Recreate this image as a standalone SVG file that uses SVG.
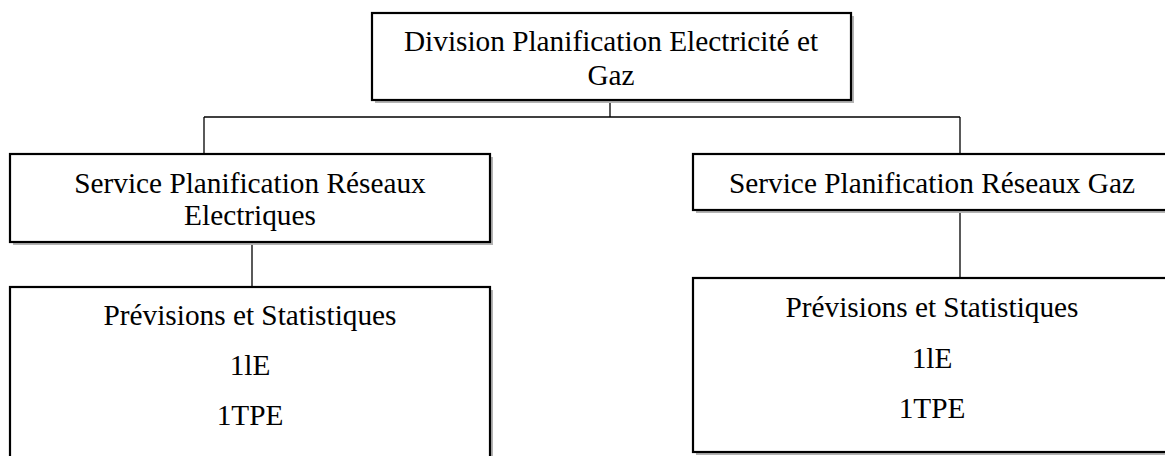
<svg xmlns="http://www.w3.org/2000/svg" width="1165" height="456" viewBox="0 0 1165 456">
  <style>
    .shadow { fill: #b3b3b3; stroke: none; }
    .box { fill: #ffffff; stroke: #000000; stroke-width: 2.2; }
    .link { fill: none; stroke: #000000; stroke-width: 1.3; }
    text { font-family: "Liberation Serif", "Times New Roman", serif; font-size: 29.3px; fill: #000000; text-anchor: middle; }
  </style>
  <rect width="1165" height="456" fill="#ffffff"/>

  <g id="connectors">
    <line class="link" x1="610" y1="100" x2="610" y2="117"/>
    <line class="link" x1="204" y1="117" x2="960" y2="117"/>
    <line class="link" x1="204" y1="117" x2="204" y2="154"/>
    <line class="link" x1="960" y1="117" x2="960" y2="154"/>
    <line class="link" x1="252" y1="242" x2="252" y2="287"/>
    <line class="link" x1="960" y1="210" x2="960" y2="278"/>
  </g>

  <g id="division">
    <rect class="shadow" x="375" y="16" width="479" height="87"/>
    <rect class="box" x="372" y="13" width="479" height="87"/>
    <text x="611" y="51">Division Planification Electricité et</text>
    <text x="611" y="85">Gaz</text>
  </g>

  <g id="service-electrique">
    <rect class="shadow" x="13" y="157" width="480" height="88"/>
    <rect class="box" x="10" y="154" width="480" height="88"/>
    <text x="250" y="193">Service Planification Réseaux</text>
    <text x="250" y="225">Electriques</text>
  </g>

  <g id="service-gaz">
    <rect class="shadow" x="696" y="157" width="480" height="56"/>
    <rect class="box" x="693" y="154" width="480" height="56"/>
    <text x="932" y="193">Service Planification Réseaux Gaz</text>
  </g>

  <g id="previsions-electrique">
    <rect class="shadow" x="13" y="290" width="480" height="180"/>
    <rect class="box" x="10" y="287" width="480" height="180"/>
    <text x="250" y="325">Prévisions et Statistiques</text>
    <text x="250" y="375">1lE</text>
    <text x="250" y="425">1TPE</text>
  </g>

  <g id="previsions-gaz">
    <rect class="shadow" x="696" y="281" width="480" height="174"/>
    <rect class="box" x="693" y="278" width="480" height="174"/>
    <text x="932" y="317">Prévisions et Statistiques</text>
    <text x="932" y="368">1lE</text>
    <text x="932" y="418">1TPE</text>
  </g>
</svg>
